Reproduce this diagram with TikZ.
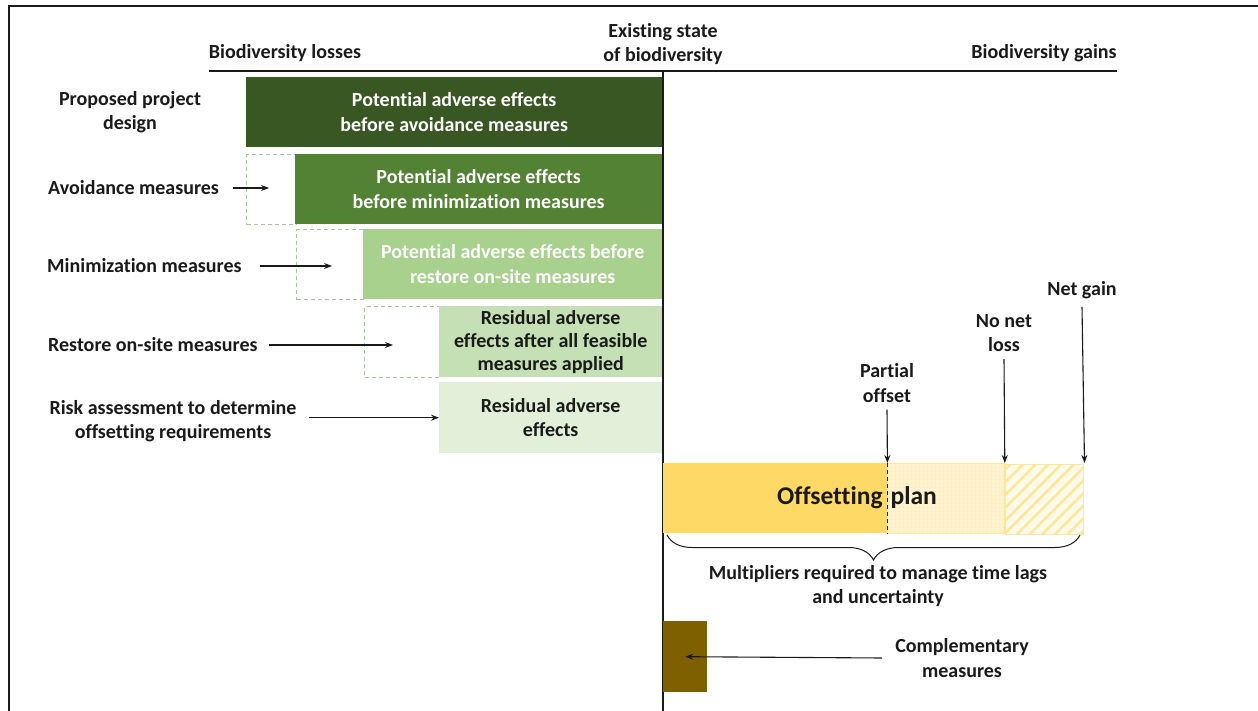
\documentclass[tikz,border=0pt]{standalone}
\usepackage{fontspec}
\setmainfont{Carlito}[Ligatures=NoCommon]
\usetikzlibrary{arrows.meta,patterns.meta,decorations.pathreplacing}
\definecolor{g1}{HTML}{385723}
\definecolor{g2}{HTML}{548235}
\definecolor{g3}{HTML}{A9D18E}
\definecolor{g4}{HTML}{C5E0B4}
\definecolor{g5}{HTML}{E2F0D9}
\definecolor{dashc}{HTML}{ABC29C}
\definecolor{y1}{HTML}{FFD966}
\definecolor{y2}{HTML}{FFF2CC}
\definecolor{y3}{HTML}{FFE699}
\definecolor{y4}{HTML}{FFFBEA}
\definecolor{brn}{HTML}{7F6000}
\definecolor{ink}{HTML}{1A1A1A}
\begin{document}
\begin{tikzpicture}[x=1pt,y=-1pt,
  txt/.style={font=\fontsize{20}{24.5}\selectfont\bfseries, text=ink, align=center, inner sep=0pt},
  box/.style={txt, anchor=north west, draw=none},
  ghost/.style={draw=dashc, dash pattern=on 4pt off 3pt, line width=1.1pt, anchor=north west, inner sep=0pt},
  seg/.style={anchor=north west, inner sep=0pt, minimum height=70pt},
  arr/.style={-{Stealth[length=8pt,width=6pt]}, line width=1.1pt, draw=ink},
]
\useasboundingbox (0,0) rectangle (1258,711);
% frame
\draw[line width=2.5pt, ink] (9,711) -- (9,6) -- (1258,6);
% headers
\node[txt] (hloss) at (285,53) {Biodiversity losses};
\node[txt] (hstate) at (663,44) {Existing state\\of biodiversity};
\node[txt] (hgain) at (1044,53) {Biodiversity gains};
\draw[line width=2pt, ink] (209,71) -- (1117,71);
\draw[line width=2pt, ink] (663,72) -- (663,711);

% dashed ghost boxes
\node[ghost, minimum width=50pt, minimum height=70pt] (d1) at (246,154) {};
\node[ghost, minimum width=68pt, minimum height=70pt] (d2) at (296,229) {};
\node[ghost, minimum width=76pt, minimum height=71pt] (d3) at (364,306) {};

% green boxes
\node[box, fill=g1, text=white, minimum width=416pt, minimum height=70pt] (b1) at (246,77) {Potential adverse effects\\before avoidance measures};
\node[box, fill=g2, text=white, minimum width=367pt, minimum height=70pt] (b2) at (295,154) {Potential adverse effects\\before minimization measures};
\node[box, fill=g3, text=white, minimum width=299pt, minimum height=70pt] (b3) at (363,229) {Potential adverse effects before\\restore on-site measures};
\node[box, fill=g4, minimum width=223pt, minimum height=71pt, font=\fontsize{20}{23}\selectfont\bfseries] (b4) at (439,306) {Residual adverse\\effects after all feasible\\measures applied};
\node[box, fill=g5, minimum width=223pt, minimum height=71pt] (b5) at (439,382) {Residual adverse\\effects};

% left labels
\node[txt] (ppd) at (130,112) {Proposed project\\design};
\node[txt, anchor=west] (avoid) at (48,188) {Avoidance measures};
\node[txt, anchor=west] (mini) at (47,266) {Minimization measures};
\node[txt, anchor=west] (rest) at (48,345) {Restore on-site measures};
\node[txt] (risk) at (173,421) {Risk assessment to determine\\offsetting requirements};

\coordinate (e1) at (269,188);
\coordinate (e2) at (332,266);
\coordinate (e3) at (393,345);
\draw[arr] ([xshift=14pt]avoid.east) -- (e1);
\draw[arr] ([xshift=18pt]mini.east) -- (e2);
\draw[arr] ([xshift=11pt]rest.east) -- (e3);
\draw[arr] ([xshift=12pt]risk.east |- b5.west) -- (b5.west);

% offsetting bar
\node[seg, fill=y1, minimum width=224pt] (o1) at (663,463) {};
\node[seg, minimum width=117pt, draw=y3, line width=0.8pt, preaction={fill=y2}, pattern={Dots[distance=4pt, radius=0.7pt]}, pattern color=y3] (o2) at (887,463) {};
\node[seg, minimum width=78pt, draw=y3, line width=0.8pt, preaction={fill=y4}, pattern={Lines[angle=45, distance=9pt, line width=2.5pt]}, pattern color=y3] (o3) at (1004,463) {};
\node[txt, font=\fontsize{25.5}{30}\selectfont\bfseries] (plan) at (857,498) {Offsetting\hskip 8pt plan};
\draw[ink, line width=1.2pt, dash pattern=on 4pt off 3pt] (o1.north east) -- (o1.south east);

% threshold labels
\node[txt] (po) at (887,383) {Partial\\offset};
\node[txt] (nnl) at (1004,333) {No net\\loss};
\node[txt] (ng) at (1082,290) {Net gain};
\draw[arr] ([yshift=-7pt]po.south) -- (o1.north east);
\draw[arr] ([yshift=-7pt]nnl.south) -- (o2.north east);
\draw[arr] ([yshift=-8pt]ng.south) -- (o3.north east);

% brace
\coordinate (bl) at (667,535);
\coordinate (br) at (1080,535);
\draw[ink, line width=1pt, decorate, decoration={brace, amplitude=25pt, mirror}] (bl) -- (br);
\node[txt] (mult) at (878,586) {Multipliers required to manage time lags\\and uncertainty};

% complementary
\node[anchor=north west, inner sep=0pt, fill=brn, minimum width=44pt, minimum height=71pt] (comp) at (663,621) {};
\node[txt] (compl) at (962,658) {Complementary\\measures};
\draw[arr] ([xshift=-13pt]compl.west) -- (comp.center);
\end{tikzpicture}
\end{document}
